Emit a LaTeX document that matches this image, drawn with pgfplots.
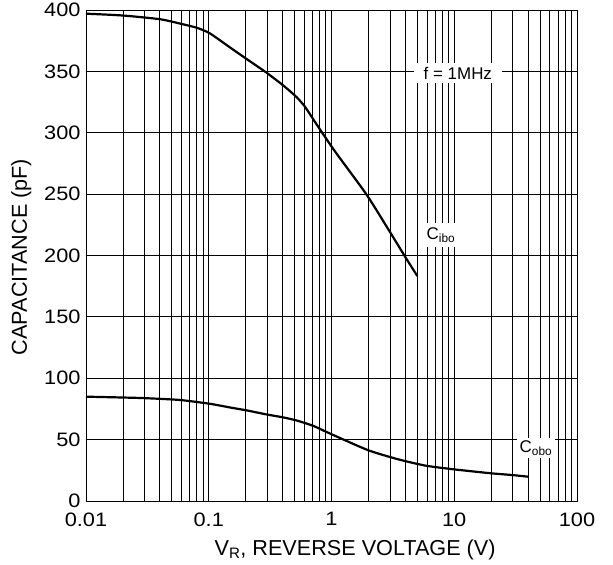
\documentclass[border=0pt]{standalone}
\usepackage{pgfplots}
\pgfplotsset{compat=1.18}
\usetikzlibrary{calc}
\usepackage{fontspec}
\setmainfont{Liberation Sans}
\newfontfamily\tickfont[FakeStretch=1.12]{Liberation Sans}
\begin{document}
\begin{tikzpicture}
\begin{axis}[
  name=ax,
  scale only axis,
  width=491bp, height=491bp,
  xmode=log, log basis x=10,
  xmin=0.01, xmax=100, ymin=0, ymax=400,
  xtick={0.01,0.1,1,10,100},
  xticklabels={0.01,0.1,1,10,100},
  minor xtick={0.02,0.03,0.04,0.05,0.06,0.07,0.08,0.09,
               0.2,0.3,0.4,0.5,0.6,0.7,0.8,0.9,
               2,3,4,5,6,7,8,9,
               20,30,40,50,60,70,80,90},
  ytick={0,50,100,150,200,250,300,350,400},
  yticklabels={0,50,100,150,200,250,300,350,400},
  grid=both,
  major grid style={black, line width=0.8bp},
  minor grid style={black, line width=0.8bp},
  axis line style={black, line width=0.9bp},
  major tick length=0pt, minor tick length=0pt,
  tick style={draw=none},
  /pgf/number format/assume math mode=true,
  ticklabel style={font=\tickfont\fontsize{19.5}{19.5}\selectfont},
  xticklabel style={yshift=-8bp},
  yticklabel style={xshift=-2bp},
  xlabel={V\textsubscript{R}, REVERSE VOLTAGE (V)},
  ylabel={CAPACITANCE (pF)},
  label style={font=\fontsize{21.7}{21.7}\selectfont},
  xlabel style={at={(axis description cs:0.548,-0.1)}, anchor=center},
  ylabel style={at={(axis description cs:-0.132,0.497)}, anchor=center},
  clip=false,
]
\addplot[black, line width=2.2bp, smooth, tension=0.4] coordinates {
(0.01,397) (0.02,395.5) (0.04,392.5) (0.058,389) (0.08,385.5) (0.102,381)
(0.149,369.5) (0.204,360) (0.293,349.2) (0.405,338.5) (0.52,329) (0.61,321)
(0.71,311) (0.86,298.5) (1.1,283) (1.94,249.3) (3.1,216.7) (3.98,199) (5.0,183.3)
};
\addplot[black, line width=2.2bp, smooth, tension=0.4] coordinates {
(0.01,85) (0.02,84.3) (0.03,83.8) (0.058,82.3) (0.102,79.2) (0.149,76.2) (0.204,73.8)
(0.293,70.6) (0.4,68.2) (0.52,65.6) (0.71,61.2) (0.97,55) (1.94,41.8) (3.0,35.8) (4.1,32.2)
(6.0,28.6) (9.9,25.8) (19.8,22.6) (30,21.1) (40,19.8)
};
\node[fill=white, inner xsep=10bp, inner ysep=4bp, font=\fontsize{17}{17}\selectfont] at (axis cs:10.7,348.7) {f = 1MHz};
\node[fill=white, inner xsep=2bp, inner ysep=5bp, font=\fontsize{17}{17}\selectfont] at (axis cs:7.8,216.7) {C\textsubscript{ibo}};
\node[fill=white, inner xsep=3bp, inner ysep=3bp, font=\fontsize{17}{17}\selectfont] at (axis cs:46.3,43.2) {C\textsubscript{obo}};
\end{axis}
\pgfresetboundingbox
\path ($(ax.south west)+(-86bp,-64bp)$) rectangle ($(ax.north east)+(36bp,10bp)$);
\end{tikzpicture}
\end{document}
